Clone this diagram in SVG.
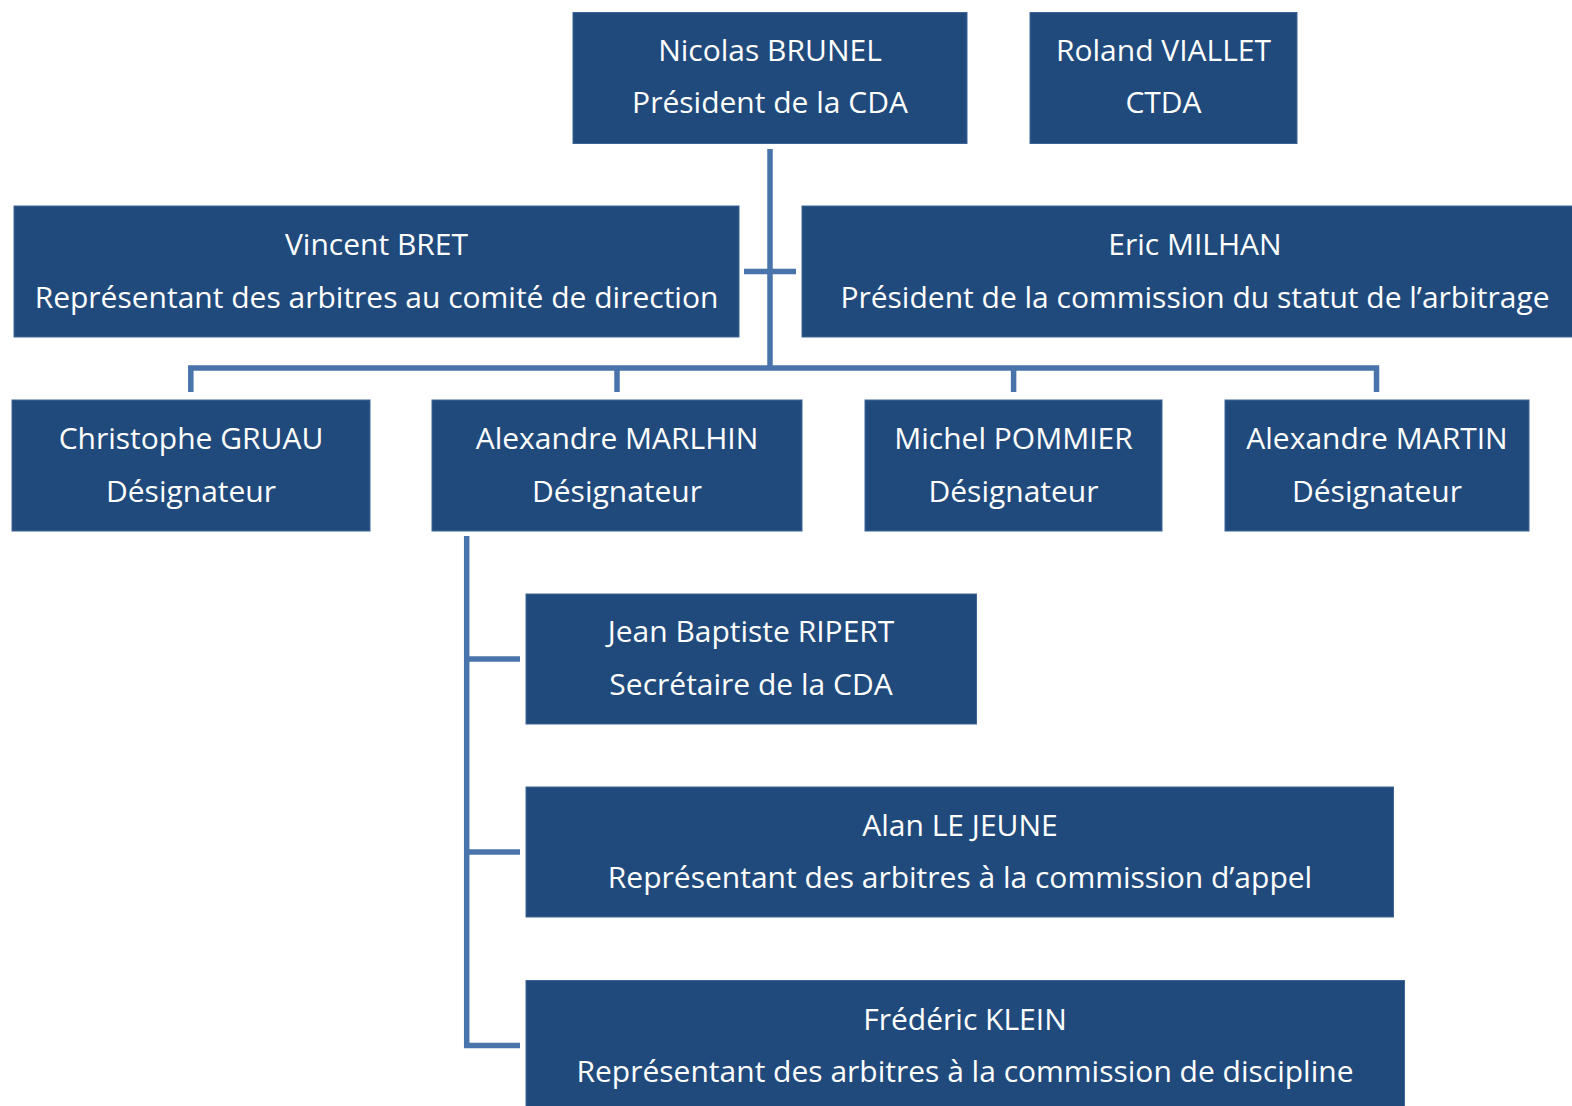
<svg xmlns="http://www.w3.org/2000/svg" width="1572" height="1106" viewBox="0 0 1572 1106">
<style>
.box{fill:#214A7C;stroke:#3F6596;stroke-width:1}
.t{font-family:"Open Sans","Noto Sans",sans-serif;font-size:30px;fill:#FFFFFF;text-anchor:middle}
.c{fill:none;stroke:#4874AB;stroke-width:5.5;stroke-linejoin:miter;stroke-linecap:butt}
</style>
<rect width="1572" height="1106" fill="#FFFFFF"/>
<g id="connectors">
<path class="c" d="M770 149 V368"/>
<path class="c" d="M744 271.5 H796"/>
<path class="c" d="M190.8 392 V368 H1376.5 V392"/>
<path class="c" d="M617 368 V392"/>
<path class="c" d="M1013.6 368 V392"/>
<path class="c" d="M466.7 536 V1045.5 H520"/>
<path class="c" d="M466.7 659 H520"/>
<path class="c" d="M466.7 852 H520"/>
</g>
<g id="n-brunel">
<rect class="box" x="573" y="12.5" width="394" height="131"/>
<text class="t" x="770" y="61">Nicolas BRUNEL</text>
<text class="t" x="770" y="113">Président de la CDA</text>
</g>
<g id="n-viallet">
<rect class="box" x="1030" y="12.5" width="267" height="131"/>
<text class="t" x="1163.5" y="61">Roland VIALLET</text>
<text class="t" x="1163.5" y="113">CTDA</text>
</g>
<g id="n-bret">
<rect class="box" x="14" y="206" width="725" height="131"/>
<text class="t" x="376.5" y="255">Vincent BRET</text>
<text class="t" x="376.5" y="308">Représentant des arbitres au comité de direction</text>
</g>
<g id="n-milhan">
<rect class="box" x="802" y="206" width="790" height="131"/>
<text class="t" x="1195" y="255">Eric MILHAN</text>
<text class="t" x="1195" y="308">Président de la commission du statut de l’arbitrage</text>
</g>
<g id="n-gruau">
<rect class="box" x="12" y="400" width="358" height="131"/>
<text class="t" x="191" y="449">Christophe GRUAU</text>
<text class="t" x="191" y="502">Désignateur</text>
</g>
<g id="n-marlhin">
<rect class="box" x="432" y="400" width="370" height="131"/>
<text class="t" x="617" y="449">Alexandre MARLHIN</text>
<text class="t" x="617" y="502">Désignateur</text>
</g>
<g id="n-pommier">
<rect class="box" x="865" y="400" width="297" height="131"/>
<text class="t" x="1013.5" y="449">Michel POMMIER</text>
<text class="t" x="1013.5" y="502">Désignateur</text>
</g>
<g id="n-martin">
<rect class="box" x="1225" y="400" width="304" height="131"/>
<text class="t" x="1377" y="449">Alexandre MARTIN</text>
<text class="t" x="1377" y="502">Désignateur</text>
</g>
<g id="n-ripert">
<rect class="box" x="526" y="594" width="450.5" height="130"/>
<text class="t" x="751" y="642">Jean Baptiste RIPERT</text>
<text class="t" x="751" y="695">Secrétaire de la CDA</text>
</g>
<g id="n-lejeune">
<rect class="box" x="526" y="787" width="867.5" height="130"/>
<text class="t" x="960" y="836">Alan LE JEUNE</text>
<text class="t" x="960" y="888">Représentant des arbitres à la commission d’appel</text>
</g>
<g id="n-klein">
<rect class="box" x="526" y="980.5" width="878.5" height="140"/>
<text class="t" x="965" y="1030">Frédéric KLEIN</text>
<text class="t" x="965" y="1082">Représentant des arbitres à la commission de discipline</text>
</g>
</svg>
